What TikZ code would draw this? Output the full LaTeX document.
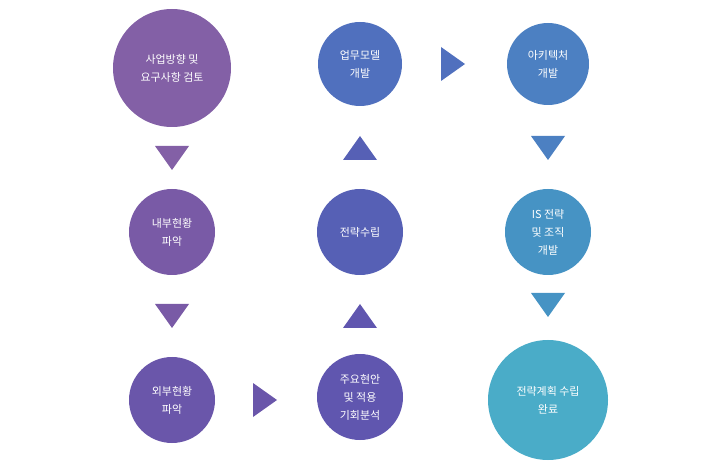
\documentclass[tikz,border=0pt]{standalone}
\usepackage{fontspec}
\setmainfont{Noto Sans CJK KR}
\usetikzlibrary{positioning}
\definecolor{cA}{RGB}{131,96,166}
\definecolor{cB}{RGB}{121,90,166}
\definecolor{cC}{RGB}{106,86,170}
\definecolor{cD}{RGB}{96,86,175}
\definecolor{cE}{RGB}{86,96,181}
\definecolor{cF}{RGB}{80,112,190}
\definecolor{cG}{RGB}{76,128,194}
\definecolor{cH}{RGB}{70,147,196}
\definecolor{cI}{RGB}{74,172,200}
\tikzset{
  stepNode/.style={circle,fill=#1,text=white,align=center,font=\fontsize{11}{18}\selectfont,inner sep=0pt},
  pics/tri/.style={code={\fill[#1] (-17,12) -- (17,12) -- (0,-12) -- cycle;}},
}
\begin{document}
\begin{tikzpicture}[x=1bp,y=-1bp]
  \useasboundingbox (0,0) rectangle (720,464);
  \node[stepNode=cA,minimum size=118bp] (req) at (172,68) {사업방향 및\\요구사항 검토};
  \node[stepNode=cB,minimum size=86bp] (inner) at (172,232) {내부현황\\파악};
  \node[stepNode=cC,minimum size=86bp] (outer) at (172,400) {외부현황\\파악};
  \node[stepNode=cD,minimum size=86bp] (issue) at (360,397) {주요현안\\및 적용\\기회분석};
  \node[stepNode=cE,minimum size=86bp] (strat) at (360,232) {전략수립};
  \node[stepNode=cF,minimum size=84bp] (biz) at (360,64) {업무모델\\개발};
  \node[stepNode=cG,minimum size=82bp] (arch) at (548,64) {아키텍처\\개발};
  \node[stepNode=cH,minimum size=86bp] (isorg) at (548,232) {IS 전략\\및 조직\\개발};
  \node[stepNode=cI,minimum size=120bp] (done) at (548,400) {전략계획 수립\\완료};

  \pic[rotate=180] at (172,158) {tri=cA};
  \pic[rotate=180] at (172,316) {tri=cB};
  \pic[rotate=-90] at (265,400) {tri=cC};
  \pic at (360,316) {tri=cD};
  \pic at (360,148) {tri=cE};
  \pic[rotate=-90] at (453,64) {tri=cF};
  \pic[rotate=180] at (548,148) {tri=cG};
  \pic[rotate=180] at (548,305) {tri=cH};
\end{tikzpicture}
\end{document}
